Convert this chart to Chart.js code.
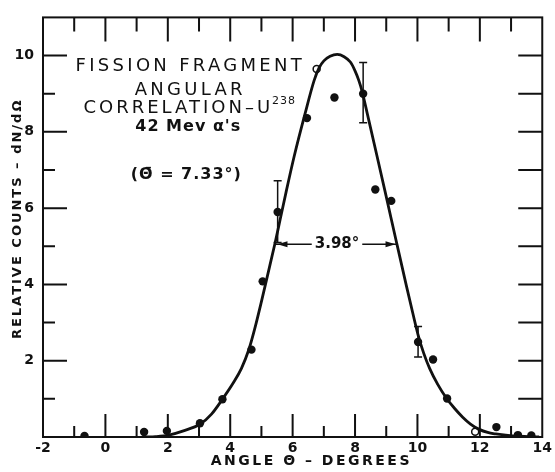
<!DOCTYPE html>
<html lang="en">
<head>
    <meta charset="UTF-8">
    <title>Fission Fragment Angular Correlation</title>
    <script src="https://cdn.jsdelivr.net/npm/chart.js"></script>
    <style>
        body { margin: 0; background: #fff; }
    </style>
</head>
<body>
    <canvas id="angularChart" width="555" height="472"></canvas>

    <script>
    // measured points (filled dots)
    const angle  = [-0.67, 1.24, 1.97, 3.03, 3.75, 4.68, 5.04, 5.52, 6.46, 7.34, 8.26, 8.65, 9.16, 10.02, 10.5, 10.95, 12.53, 13.22, 13.65];
    const counts = [0.03, 0.13, 0.16, 0.36, 0.99, 2.29, 4.08, 5.9, 8.36, 8.9, 9.0, 6.49, 6.19, 2.49, 2.03, 1.01, 0.26, 0.05, 0.04];

    // open circles
    const openAngle  = [6.77, 11.85];
    const openCounts = [9.65, 0.14];

    // error bars
    const errAngle = [5.52, 8.26, 10.02];
    const errLow   = [5.1, 8.24, 2.1];
    const errHigh  = [6.72, 9.82, 2.9];

    // fitted curve
    const fitAngle  = [1.3, 1.6, 2.03, 2.5, 3.04, 3.4, 3.75, 4.1, 4.36, 4.6, 4.78, 5.0, 5.2, 5.43, 5.6, 5.79, 6.05, 6.39, 6.69, 6.85, 7.0, 7.2, 7.43, 7.65, 7.85, 8.0, 8.12, 8.22, 8.4, 8.7, 9.0, 9.33, 9.65, 9.85, 10.02, 10.2, 10.39, 10.65, 10.92, 11.2, 11.45, 11.7, 11.98, 12.25, 12.51, 12.9, 13.25, 13.9];
    const fitCounts = [0, 0.01, 0.05, 0.16, 0.34, 0.6, 0.99, 1.42, 1.8, 2.3, 2.82, 3.55, 4.25, 5.06, 5.7, 6.42, 7.36, 8.45, 9.35, 9.68, 9.86, 9.98, 10.03, 9.97, 9.83, 9.6, 9.35, 9.08, 8.45, 7.38, 6.3, 5.1, 3.95, 3.25, 2.68, 2.2, 1.8, 1.38, 1.03, 0.74, 0.52, 0.34, 0.2, 0.12, 0.08, 0.04, 0.02, 0];

    const xTicks = [-2, 0, 2, 4, 6, 8, 10, 12, 14];
    const yTicks = [2, 4, 6, 8, 10];

    // FWHM marker
    const halfMax = 5.05;
    const fwhmFrom = 5.45, fwhmTo = 9.33;
    const fwhmLabel = '3.98°';

    const ink = '#111';

    const toPts = (xs, ys) => xs.map((x, i) => ({ x: x, y: ys[i] }));

    // frame, inward ticks, error bars, annotations
    const paperPlugin = {
        id: 'paper',
        afterDatasetsDraw(chart) {
            const ctx = chart.ctx;
            const xs = chart.scales.x, ys = chart.scales.y;
            const a = chart.chartArea;
            ctx.save();
            ctx.strokeStyle = ink;
            ctx.lineWidth = 2;
            ctx.strokeRect(a.left, a.top, a.right - a.left, a.bottom - a.top);

            ctx.beginPath();
            for (let v = -1; v <= 13; v++) {
                const px = xs.getPixelForValue(v);
                const major = v % 2 === 0;
                ctx.moveTo(px, a.bottom);
                ctx.lineTo(px, a.bottom - (major ? 23 : 11));
                ctx.moveTo(px, a.top);
                ctx.lineTo(px, a.top + (major ? 24 : 14));
            }
            for (let v = 1; v <= 10; v++) {
                const py = ys.getPixelForValue(v);
                const major = v % 2 === 0;
                ctx.moveTo(a.left, py);
                ctx.lineTo(a.left + (major ? 24 : 12), py);
                ctx.moveTo(a.right, py);
                ctx.lineTo(a.right - 24, py);
            }
            ctx.stroke();

            // error bars
            ctx.lineWidth = 1.5;
            ctx.beginPath();
            errAngle.forEach((x, i) => {
                const px = xs.getPixelForValue(x);
                const lo = ys.getPixelForValue(errLow[i]);
                const hi = ys.getPixelForValue(errHigh[i]);
                ctx.moveTo(px, lo); ctx.lineTo(px, hi);
                ctx.moveTo(px - 4, lo); ctx.lineTo(px + 4, lo);
                ctx.moveTo(px - 4, hi); ctx.lineTo(px + 4, hi);
            });
            ctx.stroke();

            // width at half maximum
            const y = ys.getPixelForValue(halfMax);
            const x1 = xs.getPixelForValue(fwhmFrom);
            const x2 = xs.getPixelForValue(fwhmTo);
            const mid = (x1 + x2) / 2 + 1;
            ctx.font = 'bold 15px "DejaVu Sans"';
            ctx.fillStyle = ink;
            ctx.textAlign = 'center';
            ctx.textBaseline = 'middle';
            const tw = ctx.measureText(fwhmLabel).width;
            ctx.fillText(fwhmLabel, mid, y);
            ctx.lineWidth = 1.5;
            ctx.beginPath();
            ctx.moveTo(x1, y); ctx.lineTo(mid - tw / 2 - 3, y);
            ctx.moveTo(mid + tw / 2 + 3, y); ctx.lineTo(x2, y);
            ctx.stroke();
            ctx.beginPath();
            ctx.moveTo(x1 + 2, y); ctx.lineTo(x1 + 12, y - 3); ctx.lineTo(x1 + 12, y + 3); ctx.closePath();
            ctx.moveTo(x2 - 1, y); ctx.lineTo(x2 - 11, y - 3); ctx.lineTo(x2 - 11, y + 3); ctx.closePath();
            ctx.fill();
            ctx.restore();
        },
        afterDraw(chart) {
            const ctx = chart.ctx;
            const xs = chart.scales.x, ys = chart.scales.y;
            ctx.save();
            ctx.fillStyle = ink;
            ctx.textBaseline = 'middle';
            ctx.textAlign = 'center';

            // caption block
            const cx = xs.getPixelForValue(2.72);
            ctx.font = '500 18px "DejaVu Sans"';
            ctx.letterSpacing = '3.3px';
            ctx.fillText('FISSION FRAGMENT', cx, ys.getPixelForValue(9.72));
            ctx.fillText('ANGULAR', cx, ys.getPixelForValue(9.08));
            ctx.letterSpacing = '3px';
            const corr = 'CORRELATION–U';
            const cw = ctx.measureText(corr).width;
            ctx.font = '11px "DejaVu Sans"';
            ctx.letterSpacing = '1px';
            const sw = ctx.measureText('238').width;
            const start = cx - (cw + sw) / 2;
            const cy = ys.getPixelForValue(8.62);
            ctx.textAlign = 'left';
            ctx.fillText('238', start + cw - 1, cy - 7);
            ctx.font = '500 18px "DejaVu Sans"';
            ctx.letterSpacing = '3px';
            ctx.fillText(corr, start, cy);
            ctx.textAlign = 'center';
            ctx.font = 'bold 16px "DejaVu Sans"';
            ctx.letterSpacing = '1px';
            ctx.fillText('42 Mev α\'s', cx - 2, ys.getPixelForValue(8.12));
            ctx.fillText('(Θ\u0304 = 7.33°)', cx - 4, ys.getPixelForValue(6.87));

            // axis titles
            ctx.font = 'bold 14px "DejaVu Sans"';
            ctx.letterSpacing = '2.5px';
            ctx.fillText('ANGLE Θ – DEGREES', xs.getPixelForValue(6.6), 461);
            ctx.translate(18, ys.getPixelForValue(5.72));
            ctx.rotate(-Math.PI / 2);
            ctx.font = 'bold 13px "DejaVu Sans"';
            ctx.letterSpacing = '2px';
            ctx.fillText('RELATIVE COUNTS – dN/dΩ', 0, 0);
            ctx.restore();
        }
    };

    new Chart(document.getElementById('angularChart'), {
        type: 'scatter',
        data: {
            datasets: [{
                label: 'fit',
                data: toPts(fitAngle, fitCounts),
                showLine: true,
                borderColor: ink,
                borderWidth: 2.8,
                pointRadius: 0,
                cubicInterpolationMode: 'monotone'
            }, {
                label: 'counts',
                data: toPts(angle, counts),
                backgroundColor: ink,
                borderColor: ink,
                pointRadius: 4.2,
                pointBorderWidth: 0
            }, {
                label: 'open',
                data: toPts(openAngle, openCounts),
                backgroundColor: '#fff',
                borderColor: ink,
                pointRadius: 3.5,
                pointBorderWidth: 1.5
            }]
        },
        options: {
            responsive: false,
            animation: false,
            devicePixelRatio: 1,
            layout: { padding: { top: 7, right: 6, left: 0, bottom: 0 } },
            plugins: {
                legend: { display: false },
                tooltip: { enabled: false }
            },
            scales: {
                x: {
                    type: 'linear',
                    min: -2, max: 14,
                    afterBuildTicks: s => { s.ticks = xTicks.map(v => ({ value: v })); },
                    afterFit: s => { s.height = 35; },
                    grid: { display: false, drawTicks: false },
                    border: { display: false },
                    ticks: { color: ink, font: { family: 'DejaVu Sans', size: 14, weight: 'bold' }, padding: 3, maxRotation: 0 }
                },
                y: {
                    type: 'linear',
                    min: 0, max: 11,
                    afterBuildTicks: s => { s.ticks = yTicks.map(v => ({ value: v })); },
                    afterFit: s => { s.width = 43; },
                    grid: { display: false, drawTicks: false },
                    border: { display: false },
                    ticks: { color: ink, font: { family: 'DejaVu Sans', size: 14, weight: 'bold' }, padding: 9 }
                }
            }
        },
        plugins: [paperPlugin]
    });
    </script>
</body>
</html>
